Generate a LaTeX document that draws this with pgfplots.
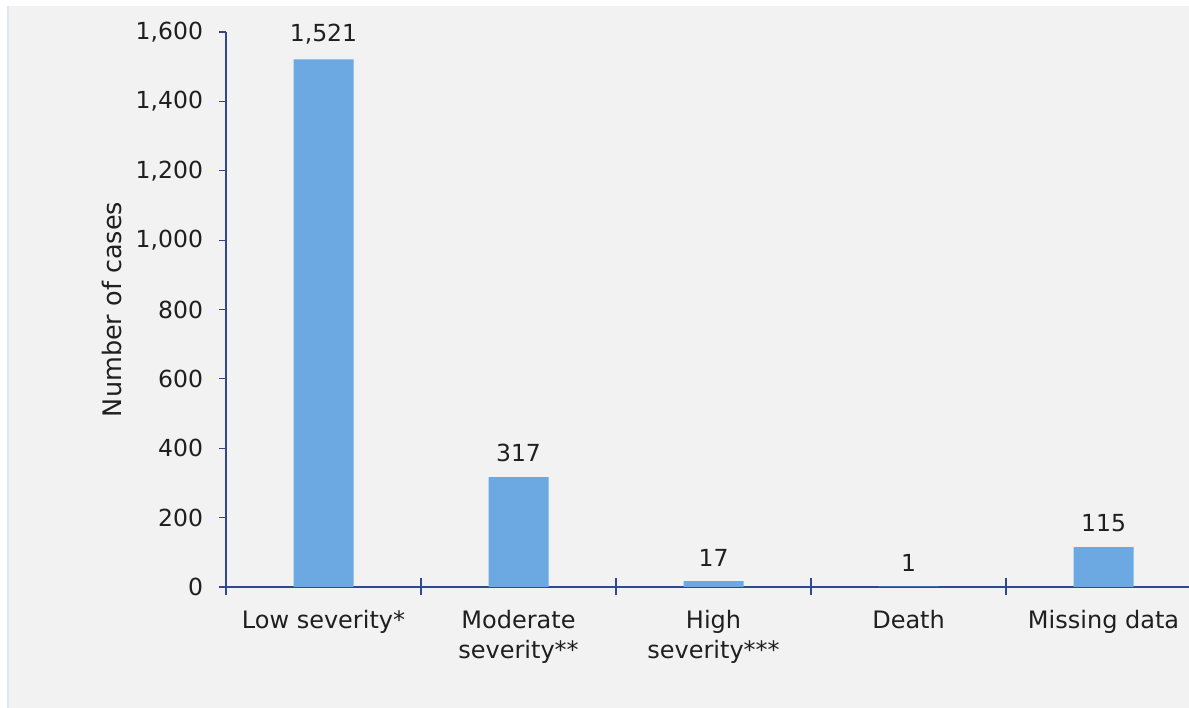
\documentclass[border=0pt]{standalone}
\usepackage{pgfplots}
\pgfplotsset{compat=1.18}
\usepackage{fontspec}
\setmainfont{DejaVu Sans}
\definecolor{bg}{HTML}{F2F2F2}
\definecolor{edge}{HTML}{DCE6F2}
\definecolor{barc}{HTML}{6CA9E2}
\definecolor{axc}{HTML}{2E4A8C}
\definecolor{txt}{HTML}{1F1F1F}
\begin{document}
\fontsize{23.5}{30}\selectfont
\begin{tikzpicture}[x=1pt,y=1pt]
\useasboundingbox (0,0) rectangle (1189,708);
\fill[white] (0,0) rectangle (1189,708);
\fill[bg] (7,0) rectangle (1189,702);
\draw[edge, line width=1.5pt] (7.75,0) -- (7.75,702);
\begin{axis}[
  at={(226pt,121pt)}, anchor=south west,
  scale only axis, width=963pt, height=555pt,
  xmin=-0.5, xmax=4.438, ymin=0, ymax=1600,
  axis lines*=left,
  axis line style={axc, line width=1.2pt},
  ytick={0,200,...,1600},
  ytick align=outside,
  major tick length=7pt,
  ytick style={axc, line width=1.2pt},
  xtick={0,1,2,3,4},
  xticklabels={Low severity*, {Moderate\\severity**}, {High\\severity***}, Death, Missing data},
  xtick style={draw=none},
  extra x ticks={-0.5,0.5,1.5,2.5,3.5},
  extra x tick labels={},
  extra x tick style={major tick length=17pt, tick align=center, xtick style={draw=axc, line width=1.2pt}},
  /pgf/number format/1000 sep={,},
  /pgf/number format/assume math mode=true,
  yticklabel style={font=\fontsize{23.5}{30}\selectfont, text=txt, xshift=-8pt},
  xticklabel style={font=\fontsize{24}{30}\selectfont, text=txt, align=center, anchor=north, yshift=-15pt},
  ylabel={Number of cases},
  every axis y label/.style={at={(axis description cs:0,0.5)}, xshift=-114pt, rotate=90, anchor=center, font=\fontsize{25.5}{30}\selectfont, text=txt},
  nodes near coords={\pgfmathprintnumber[1000 sep={,}]{\pgfplotspointmeta}},
  nodes near coords style={font=\fontsize{23.5}{30}\selectfont, text=txt, anchor=south, yshift=7pt},
]
\addplot[ybar, bar width=60pt, fill=barc, draw=none] coordinates {(0,1521) (1,317) (2,17) (3,1) (4,115)};
\end{axis}
\end{tikzpicture}
\end{document}
